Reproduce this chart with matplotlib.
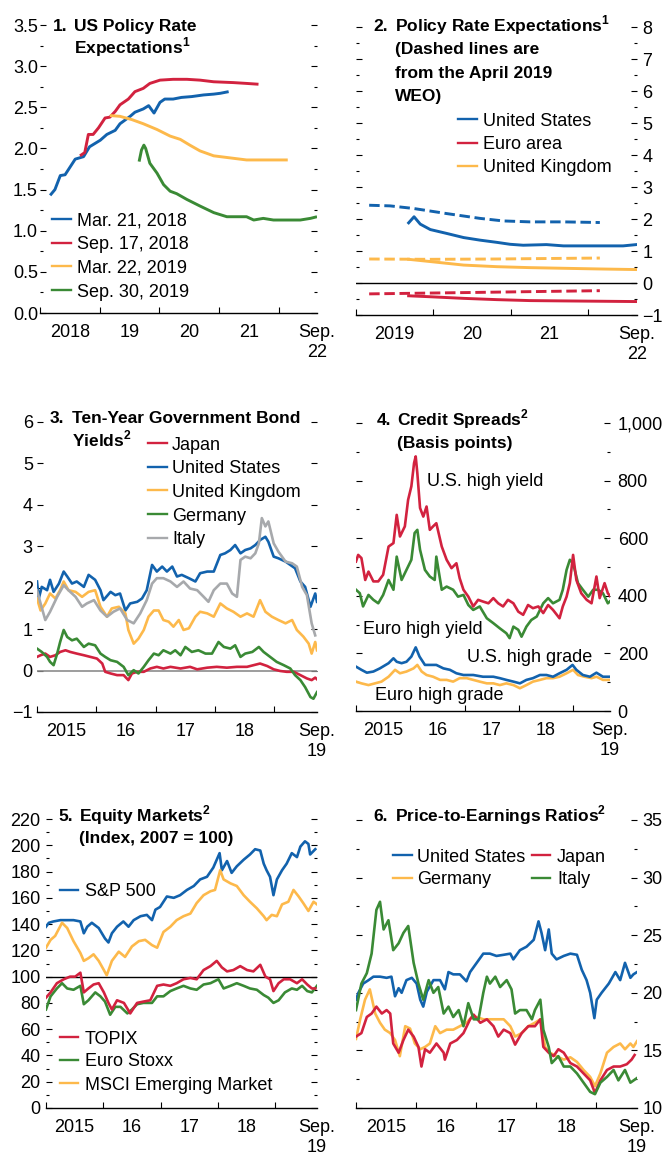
import numpy as np
import matplotlib.pyplot as plt
from matplotlib.lines import Line2D
from matplotlib.ticker import FuncFormatter

# ------------------------------------------------------------------
# data (x given as years since the panel start)
# ------------------------------------------------------------------
# 1. US policy rate expectations (start 2018)
p1_names = ['Mar. 21, 2018', 'Sep. 17, 2018', 'Mar. 22, 2019', 'Sep. 30, 2019']
p1_mar18_t = [0.17, 0.25, 0.34, 0.42, 0.59, 0.73, 0.83, 1.01, 1.12, 1.26, 1.34, 1.51, 1.59,
              1.73, 1.82, 1.91, 2.01, 2.09, 2.23, 2.37, 2.54, 2.74, 2.91, 3.02, 3.16]
p1_mar18_v = [1.43, 1.50, 1.67, 1.68, 1.87, 1.90, 2.02, 2.10, 2.17, 2.22, 2.30, 2.39, 2.44,
              2.48, 2.52, 2.43, 2.56, 2.60, 2.60, 2.62, 2.63, 2.65, 2.66, 2.67, 2.69]
p1_sep18_t = [0.67, 0.75, 0.81, 0.89, 0.98, 1.09, 1.17, 1.26, 1.34, 1.48, 1.59, 1.73, 1.84,
              2.01, 2.23, 2.46, 2.68, 2.91, 3.24, 3.46, 3.66]
p1_sep18_v = [1.91, 1.95, 2.17, 2.17, 2.25, 2.37, 2.38, 2.45, 2.53, 2.60, 2.69, 2.73, 2.79,
              2.83, 2.84, 2.84, 2.83, 2.81, 2.80, 2.79, 2.78]
p1_mar19_t = [1.17, 1.34, 1.54, 1.73, 1.96, 2.18, 2.35, 2.51, 2.68, 2.91, 3.13, 3.46, 3.80, 4.15]
p1_mar19_v = [2.40, 2.39, 2.35, 2.30, 2.23, 2.15, 2.11, 2.04, 1.97, 1.91, 1.89, 1.86, 1.86, 1.86]
p1_sep19_t = [1.66, 1.70, 1.74, 1.77, 1.84, 1.96, 2.07, 2.18, 2.29, 2.46, 2.68, 2.91, 3.13,
              3.46, 3.58, 3.74, 3.91, 4.36, 4.53, 4.64]
p1_sep19_v = [1.84, 1.98, 2.04, 2.00, 1.82, 1.70, 1.56, 1.48, 1.45, 1.38, 1.30, 1.22, 1.17,
              1.17, 1.13, 1.15, 1.13, 1.13, 1.15, 1.17]

# 2. Policy rate expectations (start 2019), solid = now, dashed = April 2019 WEO
p2_names = ['United States', 'Euro area', 'United Kingdom']
p2_us_t = [0.68, 0.75, 0.83, 0.96, 1.17, 1.39, 1.60, 1.82, 1.99, 2.16, 2.46, 2.68, 3.11, 3.45, 3.62]
p2_us_v = [1.88, 2.07, 1.84, 1.67, 1.55, 1.42, 1.34, 1.27, 1.21, 1.18, 1.20, 1.16, 1.16, 1.16, 1.20]
p2_us_weo_t = [0.17, 0.44, 0.74, 1.17, 1.60, 1.90, 2.25, 2.68, 3.15]
p2_us_weo_v = [2.43, 2.41, 2.33, 2.17, 2.02, 1.94, 1.91, 1.91, 1.89]
p2_uk_t = [0.68, 0.96, 1.39, 1.82, 2.25, 2.68, 3.11, 3.62]
p2_uk_v = [0.74, 0.67, 0.56, 0.51, 0.48, 0.46, 0.44, 0.42]
p2_uk_weo_t = [0.17, 0.96, 1.82, 2.68, 3.15]
p2_uk_weo_v = [0.75, 0.74, 0.75, 0.77, 0.78]
p2_ea_t = [0.68, 0.96, 1.39, 1.82, 2.25, 2.68, 3.62]
p2_ea_v = [-0.40, -0.43, -0.48, -0.52, -0.55, -0.56, -0.58]
p2_ea_weo_t = [0.17, 1.39, 2.25, 3.15]
p2_ea_weo_v = [-0.34, -0.30, -0.27, -0.24]

# 3. Ten-year government bond yields (start 2015)
p3_names = ['Japan', 'United States', 'United Kingdom', 'Germany', 'Italy']
p3_jp_t = [0.00, 0.06, 0.14, 0.22, 0.31, 0.39, 0.48, 0.56, 0.67, 0.79, 0.90, 1.01, 1.10, 1.15,
           1.24, 1.35, 1.46, 1.54, 1.60, 1.69, 1.80, 1.91, 2.02, 2.13, 2.25, 2.42, 2.58, 2.70,
           2.87, 3.03, 3.20, 3.37, 3.54, 3.65, 3.76, 3.88, 3.99, 4.10, 4.21, 4.33, 4.44, 4.55,
           4.63, 4.69, 4.72]
p3_jp_v = [0.33, 0.37, 0.41, 0.33, 0.37, 0.45, 0.49, 0.45, 0.41, 0.37, 0.33, 0.29, 0.17, -0.03,
           -0.07, -0.11, -0.11, -0.23, -0.07, -0.03, -0.03, 0.05, 0.09, 0.05, 0.09, 0.05, 0.09,
           0.03, 0.07, 0.09, 0.07, 0.09, 0.09, 0.13, 0.17, 0.11, 0.03, -0.01, -0.03, -0.03,
           -0.11, -0.19, -0.23, -0.17, -0.21]
p3_us_t = [0.00, 0.03, 0.08, 0.17, 0.22, 0.28, 0.37, 0.45, 0.51, 0.59, 0.67, 0.79, 0.87, 0.98,
           1.07, 1.12, 1.24, 1.32, 1.40, 1.49, 1.57, 1.69, 1.77, 1.85, 1.94, 2.02, 2.11, 2.19,
           2.28, 2.36, 2.44, 2.56, 2.67, 2.75, 2.87, 2.98, 3.09, 3.17, 3.26, 3.34, 3.43, 3.51,
           3.60, 3.68, 3.76, 3.85, 3.90, 3.99, 4.07, 4.19, 4.27, 4.35, 4.44, 4.52, 4.61, 4.69, 4.72]
p3_us_v = [2.15, 1.74, 2.02, 1.94, 2.19, 1.90, 2.10, 2.39, 2.27, 2.10, 2.15, 2.02, 2.31, 2.19,
           1.94, 1.70, 1.90, 1.82, 1.86, 1.45, 1.62, 1.66, 1.74, 1.94, 2.55, 2.39, 2.51, 2.39,
           2.51, 2.27, 2.31, 2.23, 2.15, 2.35, 2.39, 2.39, 2.79, 2.83, 2.91, 3.03, 2.83, 2.91,
           2.95, 3.03, 3.15, 3.23, 3.11, 2.75, 2.71, 2.63, 2.55, 2.47, 2.15, 2.02, 1.54, 1.86, 1.66]
p3_uk_t = [0.00, 0.06, 0.14, 0.22, 0.31, 0.39, 0.45, 0.53, 0.65, 0.76, 0.87, 0.98, 1.07, 1.18,
           1.26, 1.38, 1.49, 1.54, 1.63, 1.71, 1.80, 1.88, 1.97, 2.05, 2.13, 2.22, 2.30, 2.39,
           2.47, 2.56, 2.67, 2.75, 2.87, 2.98, 3.09, 3.20, 3.31, 3.43, 3.54, 3.65, 3.76, 3.85,
           3.96, 4.07, 4.19, 4.30, 4.38, 4.49, 4.58, 4.63, 4.69, 4.72]
p3_uk_v = [1.74, 1.45, 1.62, 1.86, 1.74, 1.94, 2.15, 1.94, 1.90, 1.78, 1.90, 1.94, 1.54, 1.30,
           1.50, 1.54, 1.38, 0.98, 0.65, 0.77, 0.98, 1.30, 1.45, 1.45, 1.22, 1.18, 1.06, 1.22,
           0.98, 1.02, 1.30, 1.42, 1.38, 1.30, 1.62, 1.50, 1.42, 1.30, 1.38, 1.30, 1.70, 1.42,
           1.30, 1.22, 1.14, 1.22, 0.98, 0.82, 0.65, 0.41, 0.69, 0.49]
p3_de_t = [0.00, 0.08, 0.17, 0.22, 0.28, 0.34, 0.39, 0.45, 0.51, 0.59, 0.67, 0.79, 0.87, 0.98,
           1.07, 1.15, 1.24, 1.35, 1.46, 1.54, 1.63, 1.71, 1.80, 1.88, 1.97, 2.05, 2.13, 2.25,
           2.33, 2.42, 2.50, 2.61, 2.72, 2.84, 2.95, 3.06, 3.15, 3.26, 3.34, 3.43, 3.51, 3.63,
           3.74, 3.82, 3.93, 4.04, 4.16, 4.27, 4.35, 4.44, 4.52, 4.61, 4.66, 4.72]
p3_de_v = [0.53, 0.45, 0.33, 0.21, 0.13, 0.41, 0.69, 0.98, 0.81, 0.73, 0.77, 0.57, 0.65, 0.61,
           0.41, 0.33, 0.25, 0.21, 0.09, -0.11, 0.01, -0.07, 0.09, 0.25, 0.41, 0.37, 0.49, 0.41,
           0.49, 0.37, 0.57, 0.45, 0.49, 0.41, 0.41, 0.69, 0.57, 0.53, 0.61, 0.33, 0.41, 0.45,
           0.57, 0.45, 0.33, 0.21, 0.13, 0.05, -0.11, -0.23, -0.40, -0.64, -0.68, -0.52]
p3_it_t = [0.00, 0.06, 0.14, 0.22, 0.34, 0.45, 0.53, 0.65, 0.76, 0.84, 0.96, 1.07, 1.18, 1.29,
           1.40, 1.52, 1.63, 1.74, 1.85, 1.94, 2.02, 2.13, 2.25, 2.36, 2.47, 2.58, 2.70, 2.81,
           2.89, 2.98, 3.09, 3.20, 3.29, 3.37, 3.43, 3.51, 3.60, 3.68, 3.74, 3.79, 3.85, 3.90,
           3.99, 4.07, 4.19, 4.30, 4.38, 4.47, 4.55, 4.63, 4.69]
p3_it_v = [1.94, 1.62, 1.22, 1.42, 1.78, 2.06, 1.94, 1.78, 1.54, 1.62, 1.70, 1.45, 1.30, 1.42,
           1.50, 1.22, 1.14, 1.38, 1.70, 2.10, 2.23, 2.23, 2.15, 2.02, 2.15, 1.98, 1.94, 1.78,
           1.66, 1.94, 2.10, 2.10, 1.86, 1.78, 2.67, 2.75, 2.71, 2.83, 3.07, 3.68, 3.48, 3.60,
           3.07, 2.87, 2.63, 2.59, 2.51, 2.02, 1.82, 1.14, 0.85]

# 4. Credit spreads, basis points (start 2015)
p4_names = ['U.S. high yield', 'Euro high yield', 'U.S. high grade', 'Euro high grade']
p4_ushy_t = [0.00, 0.04, 0.10, 0.17, 0.23, 0.32, 0.41, 0.50, 0.60, 0.69, 0.75, 0.81, 0.90, 0.96,
             1.02, 1.07, 1.10, 1.13, 1.18, 1.24, 1.30, 1.36, 1.42, 1.48, 1.58, 1.67, 1.76, 1.85,
             1.91, 1.98, 2.07, 2.16, 2.25, 2.34, 2.44, 2.53, 2.62, 2.71, 2.80, 2.90, 2.99, 3.08,
             3.17, 3.26, 3.36, 3.45, 3.54, 3.63, 3.75, 3.81, 3.88, 3.94, 4.00, 4.06, 4.15, 4.25,
             4.34, 4.43, 4.49, 4.58, 4.64, 4.71]
p4_ushy_v = [519, 542, 531, 455, 484, 450, 450, 473, 571, 583, 681, 606, 641, 733, 780, 861, 884,
             826, 705, 675, 710, 629, 641, 652, 571, 525, 496, 513, 461, 421, 397, 363, 386, 380,
             374, 392, 374, 363, 386, 374, 345, 334, 368, 357, 363, 340, 368, 351, 322, 363, 397,
             444, 542, 455, 409, 386, 374, 467, 392, 444, 409, 392]
p4_euhy_t = [0.00, 0.07, 0.13, 0.23, 0.32, 0.41, 0.50, 0.60, 0.69, 0.75, 0.84, 0.93, 1.02, 1.08,
             1.13, 1.18, 1.27, 1.36, 1.45, 1.48, 1.58, 1.67, 1.79, 1.88, 1.98, 2.07, 2.16, 2.28,
             2.41, 2.53, 2.65, 2.77, 2.83, 2.90, 2.99, 3.05, 3.14, 3.23, 3.33, 3.45, 3.54, 3.63,
             3.75, 3.81, 3.88, 3.94, 4.00, 4.09, 4.18, 4.28, 4.37, 4.46, 4.55, 4.64, 4.71]
p4_euhy_v = [421, 409, 363, 403, 386, 374, 403, 455, 421, 536, 455, 490, 525, 618, 629, 560, 490,
             467, 455, 536, 421, 432, 421, 397, 403, 368, 351, 363, 322, 305, 287, 270, 253, 293,
             282, 258, 293, 316, 328, 374, 392, 374, 386, 421, 490, 525, 513, 444, 421, 397, 421,
             421, 409, 374, 386]
p4_ushg_t = [0.00, 0.10, 0.20, 0.32, 0.44, 0.60, 0.69, 0.75, 0.84, 0.93, 1.02, 1.10, 1.17, 1.27,
             1.36, 1.48, 1.61, 1.73, 1.85, 1.98, 2.16, 2.34, 2.53, 2.65, 2.77, 2.90, 3.02, 3.14,
             3.26, 3.39, 3.51, 3.63, 3.75, 3.88, 3.99, 4.06, 4.18, 4.31, 4.43, 4.55, 4.67]
p4_ushg_v = [154, 143, 133, 137, 148, 166, 183, 171, 166, 171, 189, 221, 189, 160, 160, 160, 148,
             143, 131, 125, 125, 119, 119, 114, 108, 102, 96, 108, 114, 125, 125, 119, 131, 143,
             160, 143, 125, 119, 133, 119, 119]
p4_euhg_t = [0.00, 0.10, 0.23, 0.35, 0.47, 0.60, 0.72, 0.81, 0.93, 1.06, 1.13, 1.21, 1.30, 1.42,
             1.55, 1.67, 1.79, 1.91, 2.04, 2.16, 2.28, 2.41, 2.53, 2.65, 2.77, 2.90, 3.02, 3.14,
             3.26, 3.39, 3.51, 3.63, 3.75, 3.88, 4.00, 4.09, 4.21, 4.34, 4.43, 4.55, 4.67]
p4_euhg_v = [102, 96, 90, 96, 102, 119, 143, 131, 137, 148, 160, 137, 125, 119, 108, 108, 102,
             114, 114, 108, 102, 96, 96, 90, 96, 90, 79, 90, 102, 108, 114, 114, 119, 131, 143,
             125, 119, 114, 119, 108, 108]

# 5. Equity markets, index 2007 = 100 (start 2015)
p5_names = ['S&P 500', 'TOPIX', 'Euro Stoxx', 'MSCI Emerging Market']
p5_sp_t = [0.00, 0.05, 0.13, 0.25, 0.37, 0.48, 0.60, 0.66, 0.72, 0.80, 0.92, 1.03, 1.09, 1.15,
           1.24, 1.35, 1.44, 1.53, 1.65, 1.76, 1.85, 1.91, 1.99, 2.11, 2.23, 2.34, 2.46, 2.58,
           2.69, 2.81, 2.92, 3.03, 3.07, 3.16, 3.24, 3.33, 3.45, 3.56, 3.65, 3.74, 3.80, 3.85,
           3.91, 3.97, 4.03, 4.12, 4.20, 4.29, 4.38, 4.44, 4.52, 4.58, 4.61, 4.70]
p5_sp_v = [138, 141, 142, 143, 143, 143, 142, 133, 138, 141, 137, 129, 126, 133, 138, 142, 138,
           143, 146, 147, 143, 151, 153, 161, 160, 162, 166, 169, 174, 176, 183, 194, 181, 188,
           179, 184, 189, 193, 197, 196, 186, 181, 176, 162, 174, 181, 186, 194, 191, 199, 203,
           201, 193, 197]
p5_em_t = [0.00, 0.08, 0.16, 0.28, 0.37, 0.48, 0.60, 0.66, 0.74, 0.83, 0.92, 1.01, 1.06, 1.15,
           1.27, 1.38, 1.50, 1.62, 1.73, 1.85, 1.94, 2.05, 2.17, 2.28, 2.40, 2.52, 2.63, 2.75,
           2.87, 2.95, 3.04, 3.10, 3.22, 3.33, 3.45, 3.56, 3.68, 3.80, 3.85, 3.94, 4.03, 4.12,
           4.23, 4.32, 4.41, 4.49, 4.58, 4.67, 4.73]
p5_em_v = [122, 128, 131, 141, 137, 127, 118, 112, 114, 117, 112, 105, 101, 112, 119, 115, 123,
           127, 128, 124, 122, 134, 138, 143, 146, 148, 156, 162, 165, 166, 181, 174, 171, 169,
           162, 157, 152, 146, 143, 147, 146, 155, 157, 166, 161, 156, 150, 157, 155]
p5_topix_t = [0.00, 0.08, 0.19, 0.31, 0.42, 0.51, 0.60, 0.66, 0.74, 0.83, 0.92, 1.01, 1.09, 1.15,
              1.24, 1.36, 1.47, 1.59, 1.70, 1.82, 1.94, 2.05, 2.17, 2.28, 2.40, 2.52, 2.63, 2.75,
              2.87, 2.98, 3.07, 3.16, 3.27, 3.39, 3.51, 3.62, 3.74, 3.83, 3.91, 3.97, 4.06, 4.15,
              4.26, 4.38, 4.47, 4.56, 4.64, 4.70]
p5_topix_v = [84, 88, 95, 98, 100, 100, 103, 88, 91, 94, 95, 88, 80, 75, 82, 80, 72, 80, 81, 82,
              93, 94, 93, 95, 98, 99, 98, 105, 108, 112, 107, 104, 105, 108, 105, 104, 109, 100,
              98, 89, 95, 98, 98, 95, 98, 94, 91, 91]
p5_stoxx_t = [0.00, 0.08, 0.19, 0.28, 0.37, 0.48, 0.60, 0.66, 0.74, 0.86, 0.95, 1.03, 1.12, 1.21,
              1.30, 1.42, 1.50, 1.59, 1.70, 1.85, 1.94, 2.05, 2.17, 2.28, 2.40, 2.52, 2.63, 2.75,
              2.87, 3.01, 3.10, 3.22, 3.33, 3.45, 3.56, 3.68, 3.80, 3.88, 3.97, 4.06, 4.17, 4.29,
              4.38, 4.47, 4.56, 4.64, 4.73]
p5_stoxx_v = [75, 85, 91, 95, 91, 90, 93, 79, 82, 88, 85, 81, 71, 77, 77, 72, 75, 79, 80, 80, 85,
              85, 89, 91, 93, 91, 90, 94, 95, 98, 91, 93, 95, 93, 91, 90, 86, 84, 80, 82, 88, 91,
              90, 93, 89, 88, 93]

# 6. Price-to-earnings ratios (start 2015)
p6_names = ['United States', 'Japan', 'Germany', 'Italy']
p6_us_t = [0.00, 0.04, 0.12, 0.21, 0.29, 0.40, 0.51, 0.59, 0.65, 0.71, 0.76, 0.84, 0.93, 1.01,
           1.07, 1.12, 1.18, 1.29, 1.40, 1.48, 1.54, 1.62, 1.73, 1.84, 1.90, 2.01, 2.12, 2.23,
           2.34, 2.46, 2.57, 2.62, 2.73, 2.84, 2.96, 3.04, 3.09, 3.15, 3.21, 3.26, 3.34, 3.46,
           3.57, 3.68, 3.76, 3.84, 3.90, 3.97, 4.01, 4.09, 4.21, 4.32, 4.40, 4.48, 4.57, 4.62, 4.68]
p6_us_v = [19.4, 20.0, 20.8, 21.1, 21.4, 21.4, 21.3, 21.4, 19.7, 20.4, 20.0, 21.1, 21.3, 20.8,
           19.4, 18.8, 20.1, 21.1, 21.1, 20.3, 21.8, 21.6, 21.6, 21.0, 21.8, 22.6, 23.4, 23.4,
           23.2, 23.3, 23.4, 22.9, 23.7, 24.0, 24.6, 26.2, 25.2, 23.7, 25.5, 23.4, 22.9, 23.2,
           23.4, 23.3, 22.0, 21.1, 20.0, 17.8, 19.4, 20.0, 20.8, 21.8, 21.1, 22.6, 21.3, 21.6, 21.8]
p6_jp_t = [0.00, 0.09, 0.18, 0.26, 0.34, 0.43, 0.51, 0.57, 0.62, 0.71, 0.79, 0.87, 0.96, 1.04,
           1.09, 1.15, 1.23, 1.34, 1.46, 1.48, 1.57, 1.68, 1.79, 1.90, 1.96, 2.07, 2.18, 2.29,
           2.37, 2.46, 2.57, 2.65, 2.76, 2.87, 2.98, 3.07, 3.12, 3.21, 3.29, 3.37, 3.46, 3.57,
           3.68, 3.79, 3.90, 3.98, 4.07, 4.18, 4.29, 4.40, 4.51, 4.59, 4.64]
p6_jp_v = [16.2, 16.5, 17.9, 18.2, 18.8, 18.2, 18.5, 18.2, 15.6, 14.8, 15.9, 16.8, 16.2, 15.3,
           13.6, 15.1, 14.8, 15.6, 14.8, 14.2, 15.6, 15.9, 16.5, 17.7, 18.1, 17.4, 17.7, 17.1,
           16.2, 16.8, 16.5, 15.5, 16.5, 17.1, 17.1, 17.7, 15.3, 14.8, 14.5, 15.1, 14.8, 13.9,
           13.6, 13.0, 12.4, 11.3, 12.4, 13.3, 13.6, 13.6, 13.8, 14.2, 14.6]
p6_de_t = [0.00, 0.07, 0.15, 0.23, 0.32, 0.40, 0.48, 0.57, 0.65, 0.73, 0.82, 0.90, 0.98, 1.07,
           1.15, 1.23, 1.32, 1.40, 1.51, 1.62, 1.73, 1.84, 1.93, 2.01, 2.12, 2.23, 2.34, 2.46,
           2.57, 2.65, 2.76, 2.87, 2.98, 3.07, 3.15, 3.23, 3.34, 3.46, 3.57, 3.68, 3.79, 3.90,
           3.98, 4.07, 4.18, 4.29, 4.40, 4.48, 4.57, 4.62, 4.68]
p6_de_v = [16.0, 17.7, 19.4, 20.3, 18.2, 17.4, 16.8, 16.5, 15.9, 14.5, 17.1, 16.9, 15.6, 15.1,
           15.3, 15.6, 17.1, 16.5, 16.8, 16.8, 17.1, 17.4, 17.9, 17.9, 17.7, 17.7, 17.7, 17.7,
           17.1, 16.2, 16.5, 17.1, 17.4, 17.7, 15.3, 14.8, 14.5, 14.2, 14.4, 14.0, 13.3, 12.7,
           11.9, 13.0, 14.8, 15.3, 15.6, 15.1, 15.6, 15.3, 15.8]
p6_it_t = [0.00, 0.09, 0.18, 0.26, 0.34, 0.40, 0.46, 0.54, 0.62, 0.71, 0.79, 0.87, 0.96, 1.04,
           1.12, 1.21, 1.29, 1.37, 1.46, 1.54, 1.62, 1.71, 1.79, 1.87, 1.96, 2.04, 2.12, 2.18,
           2.23, 2.32, 2.40, 2.51, 2.59, 2.65, 2.73, 2.84, 2.93, 2.98, 3.07, 3.12, 3.21, 3.26,
           3.37, 3.46, 3.57, 3.68, 3.79, 3.90, 3.98, 4.07, 4.18, 4.29, 4.37, 4.48, 4.57, 4.68]
p6_it_v = [18.5, 20.8, 21.7, 23.4, 27.2, 27.9, 25.5, 26.3, 23.7, 24.3, 25.2, 25.8, 22.6, 20.8,
           19.4, 21.1, 20.0, 20.5, 18.2, 18.8, 17.9, 18.5, 17.1, 19.1, 17.7, 17.7, 20.0, 21.4,
           20.8, 21.4, 20.5, 21.1, 20.3, 18.2, 18.5, 18.5, 17.7, 18.5, 19.4, 16.8, 15.3, 13.9,
           14.5, 13.6, 13.6, 13.0, 12.2, 11.4, 11.2, 12.2, 12.7, 13.3, 12.4, 13.3, 12.2, 12.6]

# ------------------------------------------------------------------
BLUE = '#1262ad'
RED = '#d2223f'
YELLOW = '#fdb94b'
GREEN = '#3a8a35'
GRAY = '#a7a9ac'
LW = 1.9

plt.rcParams['font.family'] = ['Liberation Sans', 'DejaVu Sans']
plt.rcParams['font.size'] = 13
plt.rcParams['mathtext.fontset'] = 'custom'
plt.rcParams['mathtext.rm'] = 'Liberation Sans'
plt.rcParams['mathtext.bf'] = 'Liberation Sans:bold'

W, H = 667, 1156
fig = plt.figure(figsize=(W / 100, H / 100), dpi=100)


def fx(px):
    return px / W


def fy(py):
    return 1 - py / H


def panel(x0, y0, x1, y1, start, end, xlabels, ylim, major, minor, side, pad, fmt):
    ax = fig.add_axes([fx(x0), fy(y1), fx(x1) - fx(x0), fy(y0) - fy(y1)])
    ax.patch.set_visible(False)
    for s in ('top', 'left', 'right'):
        ax.spines[s].set_visible(False)
    ax.spines['bottom'].set_linewidth(1.0)
    ax.set_xlim(start, end)
    ax.set_ylim(*ylim)
    years = np.arange(np.ceil(start), end)
    ax.set_xticks(years)
    ax.tick_params(axis='x', which='major', direction='in', length=4.5, width=0.8,
                   labelbottom=False)
    mids = list(years[:len(xlabels) - 1] + 0.5) + [end]
    ax.set_xticks(mids, xlabels, minor=True)
    ax.tick_params(axis='x', which='minor', length=0, pad=8)
    ax.set_yticks(np.arange(ylim[0], ylim[1] + major / 2, major))
    if minor:
        ax.set_yticks(np.arange(ylim[0], ylim[1] + minor / 2, minor), minor=True)
    ax.tick_params(axis='y', which='both', direction='in', left=True, right=True,
                   labelleft=(side == 'left'), labelright=(side == 'right'), pad=pad,
                   width=0.8)
    ax.tick_params(axis='y', which='major', length=4.3)
    ax.tick_params(axis='y', which='minor', length=2.2)
    ax.yaxis.set_major_formatter(FuncFormatter(fmt))
    return ax


def title(num, xn, xt, y0, lines, step=23):
    fig.text(fx(xn), fy(y0), num, fontweight='bold', fontsize=12.5, va='baseline')
    for i, line in enumerate(lines):
        fig.text(fx(xt), fy(y0 + i * step), line, fontweight='bold', fontsize=12.5,
                 va='baseline')


def key(x0, x1, xt, yc, color, label):
    fig.add_artist(Line2D([fx(x0), fx(x1)], [fy(yc), fy(yc)], color=color, lw=1.7,
                          transform=fig.transFigure))
    fig.text(fx(xt), fy(yc + 6.5), label, va='baseline', ha='left')


def t(base, offsets):
    return base + np.array(offsets)


dec1 = lambda v, p: f'{v:.1f}'
integer = lambda v, p: f'{v:.0f}'.replace('-', '\u2212')
comma = lambda v, p: f'{v:,.0f}'
SUP1 = r'$^{\mathbf{1}}$'
SUP2 = r'$^{\mathbf{2}}$'

# ---- panel 1
ax1 = panel(40, 25, 317, 313, 2018, 2022.64, ['2018', '19', '20', '21', 'Sep.\n22'],
            (0, 3.5), 0.5, 0.25, 'left', 1.5, dec1)
p1_series = [(p1_mar18_t, p1_mar18_v, BLUE), (p1_sep18_t, p1_sep18_v, RED),
             (p1_mar19_t, p1_mar19_v, YELLOW), (p1_sep19_t, p1_sep19_v, GREEN)]
for (xs, ys, c) in p1_series:
    ax1.plot(t(2018, xs), ys, color=c, lw=LW + 0.2, solid_capstyle='butt')
title('1.', 53, 74, 31, ['US Policy Rate', 'Expectations' + SUP1], step=22)
for i, (name, s) in enumerate(zip(p1_names, p1_series)):
    key(52, 71, 77, 219 + i * 23.7, s[2], name)

# ---- panel 2
ax2 = panel(356, 27, 637, 315, 2019, 2022.63, ['2019', '20', '21', 'Sep.\n22'],
            (-1, 8), 1, 0.5, 'right', 4, integer)
ax2.axhline(0, color='black', lw=1.0)
dash = (3.6, 1.6)
ax2.plot(t(2019, p2_us_weo_t), p2_us_weo_v, color=BLUE, lw=LW + 0.2, dashes=dash)
ax2.plot(t(2019, p2_uk_weo_t), p2_uk_weo_v, color=YELLOW, lw=LW + 0.2, dashes=dash)
ax2.plot(t(2019, p2_ea_weo_t), p2_ea_weo_v, color=RED, lw=LW + 0.2, dashes=dash)
ax2.plot(t(2019, p2_us_t), p2_us_v, color=BLUE, lw=LW + 0.2)
ax2.plot(t(2019, p2_uk_t), p2_uk_v, color=YELLOW, lw=LW + 0.2)
ax2.plot(t(2019, p2_ea_t), p2_ea_v, color=RED, lw=LW + 0.2)
title('2.', 373, 395, 31, ['Policy Rate Expectations' + SUP1, '(Dashed lines are',
                           'from the April 2019', 'WEO)'], step=23.3)
for i, (name, c) in enumerate(zip(p2_names, [BLUE, RED, YELLOW])):
    key(458, 477, 483, 119 + i * 23.5, c, name)

# ---- panel 3
ax3 = panel(37, 422, 317, 712, 2015, 2019.72, ['2015', '16', '17', '18', 'Sep.\n19'],
            (-1, 6), 1, None, 'left', 3, integer)
ax3.axhline(0, color='#8c8c8c', lw=1.2)
p3_series = [(p3_jp_t, p3_jp_v, RED), (p3_us_t, p3_us_v, BLUE), (p3_uk_t, p3_uk_v, YELLOW),
             (p3_de_t, p3_de_v, GREEN), (p3_it_t, p3_it_v, GRAY)]
for (xs, ys, c) in p3_series:
    ax3.plot(t(2015, xs), ys, color=c, lw=LW)
title('3.', 50, 72, 423, ['Ten-Year Government Bond', 'Yields' + SUP2])
for i, (name, s) in enumerate(zip(p3_names, p3_series)):
    key(148, 167, 172, 443 + i * 23.7, s[2], name)

# ---- panel 4
ax4 = panel(356, 423, 610, 711, 2015, 2019.68, ['2015', '16', '17', '18', 'Sep.\n19'],
            (0, 1000), 200, 100, 'right', 5.5, comma)
ax4.plot(t(2015, p4_euhy_t), p4_euhy_v, color=GREEN, lw=LW)
ax4.plot(t(2015, p4_ushy_t), p4_ushy_v, color=RED, lw=LW)
ax4.plot(t(2015, p4_euhg_t), p4_euhg_v, color=YELLOW, lw=LW)
ax4.plot(t(2015, p4_ushg_t), p4_ushg_v, color=BLUE, lw=LW)
title('4.', 377, 397, 425, ['Credit Spreads' + SUP2, '(Basis points)'])
for name, (xl, yc) in zip(p4_names, [(427, 480), (363, 627), (467, 655), (375, 694)]):
    fig.text(fx(xl), fy(yc + 6.5), name, va='baseline')

# ---- panel 5
ax5 = panel(46, 819, 317, 1108, 2015, 2019.73, ['2015', '16', '17', '18', 'Sep.\n19'],
            (0, 220), 20, 10, 'left', 4, integer)
ax5.axhline(100, color='black', lw=1.0)
ax5.plot(t(2015, p5_sp_t), p5_sp_v, color=BLUE, lw=LW)
ax5.plot(t(2015, p5_em_t), p5_em_v, color=YELLOW, lw=LW)
ax5.plot(t(2015, p5_stoxx_t), p5_stoxx_v, color=GREEN, lw=LW)
ax5.plot(t(2015, p5_topix_t), p5_topix_v, color=RED, lw=LW)
title('5.', 58, 79, 821, ['Equity Markets' + SUP2, '(Index, 2007 = 100)'], step=22)
for name, c, yc in zip(p5_names, [BLUE, RED, GREEN, YELLOW], [890, 1037, 1060, 1083]):
    key(60, 78, 85, yc, c, name)

# ---- panel 6
ax6 = panel(356, 820, 637, 1108, 2015, 2019.68, ['2015', '16', '17', '18', 'Sep.\n19'],
            (10, 35), 5, 2.5, 'right', 4, integer)
ax6.plot(t(2015, p6_us_t), p6_us_v, color=BLUE, lw=LW)
ax6.plot(t(2015, p6_de_t), p6_de_v, color=YELLOW, lw=LW)
ax6.plot(t(2015, p6_jp_t), p6_jp_v, color=RED, lw=LW)
ax6.plot(t(2015, p6_it_t), p6_it_v, color=GREEN, lw=LW)
title('6.', 373, 395, 821, ['Price-to-Earnings Ratios' + SUP2])
p6_keys = [(393, 412, 417, 855), (532, 550, 557, 855), (393, 412, 417, 878), (532, 550, 557, 878)]
for name, c, (a, b, xt, yc) in zip(p6_names, [BLUE, RED, YELLOW, GREEN], p6_keys):
    key(a, b, xt, yc, c, name)

fig.savefig('out.png', dpi=100)
